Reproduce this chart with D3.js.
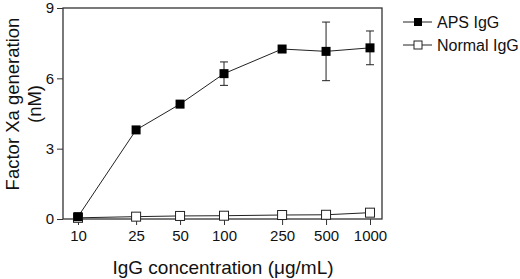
<!DOCTYPE html>
<html><head><meta charset="utf-8">
<script src="https://cdn.jsdelivr.net/npm/d3@7"></script>
<style>body{margin:0;background:#fff}svg{display:block}text{font-family:"Liberation Sans",Arial,sans-serif;fill:#111}</style>
</head><body>
<script>
const concentrations = [10, 25, 50, 100, 250, 500, 1000];
const xTickLabels = ["10", "25", "50", "100", "250", "500", "1000"];
const yTicks = [0, 3, 6, 9];
const apsValues = [0.1, 3.8, 4.9, 6.2, 7.25, 7.15, 7.3];
const apsErrors = [0, 0, 0, 0.5, 0, 1.25, 0.72];
const normalValues = [0.05, 0.1, 0.13, 0.14, 0.17, 0.18, 0.27];
const seriesNames = ["APS IgG", "Normal IgG"];

const W = 520, H = 279;
const svg = d3.select("body").append("svg").attr("width", W).attr("height", H);
const pL = 63, pR = 382, pT = 8, pB = 219;
const x = d3.scaleLog().domain([10, 1000]).range([78, 370]);
const y = d3.scaleLinear().domain([0, 9]).range([pB, pT]);

// frame
svg.append("rect").attr("x", pL).attr("y", pT).attr("width", pR-pL).attr("height", pB-pT)
  .attr("fill", "none").attr("stroke", "#333").attr("stroke-width", 1.3);

// y axis
const ya = svg.append("g").attr("transform", `translate(${pL},0)`)
  .call(d3.axisLeft(y).tickValues(yTicks).tickSize(6).tickPadding(3).tickFormat(d3.format("d")));
ya.select(".domain").remove();
ya.selectAll("line").attr("stroke", "#333");
ya.selectAll("text").style("font-size", "15px").attr("fill", "#111");

// x axis
const xa = svg.append("g").attr("transform", `translate(0,${pB})`)
  .call(d3.axisBottom(x).tickValues(concentrations).tickSize(6).tickPadding(5).tickFormat((d,i) => xTickLabels[i]));
xa.select(".domain").remove();
xa.selectAll("line").attr("stroke", "#333");
xa.selectAll("text").style("font-size", "15px").attr("fill", "#111");

// axis titles
svg.append("text").attr("transform", `translate(13,104) rotate(-90)`).attr("text-anchor", "middle")
  .attr("dy", "0.35em").style("font-size", "18.5px").text("Factor Xa generation");
svg.append("text").attr("transform", `translate(35,104) rotate(-90)`).attr("text-anchor", "middle")
  .attr("dy", "0.35em").style("font-size", "18.5px").text("(nM)");
svg.append("text").attr("x", 223).attr("y", 274).attr("text-anchor", "middle")
  .style("font-size", "19px").text("IgG concentration (\u03bcg/mL)");

const line = d3.line().x(d => x(d[0])).y(d => y(d[1]));

// Normal series
const normData = concentrations.map((c,i) => [c, normalValues[i]]);
svg.append("path").datum(normData).attr("d", line).attr("fill", "none").attr("stroke", "#222").attr("stroke-width", 1);
// APS series
const apsData = concentrations.map((c,i) => [c, apsValues[i], apsErrors[i]]);
svg.append("path").datum(apsData).attr("d", line).attr("fill", "none").attr("stroke", "#222").attr("stroke-width", 1);

// error bars
const eb = svg.append("g").attr("stroke", "#222").attr("stroke-width", 1);
apsData.filter(d => d[2] > 0).forEach(d => {
  const cx = x(d[0]), y1 = y(d[1] + d[2]), y2 = y(d[1] - d[2]);
  eb.append("line").attr("x1", cx).attr("x2", cx).attr("y1", y1).attr("y2", y2);
  eb.append("line").attr("x1", cx-4).attr("x2", cx+4).attr("y1", y1).attr("y2", y1);
  eb.append("line").attr("x1", cx-4).attr("x2", cx+4).attr("y1", y2).attr("y2", y2);
});

// markers
svg.append("g").selectAll("rect").data(normData).join("rect")
  .attr("x", d => x(d[0]) - 4.5).attr("y", d => y(d[1]) - 4.5).attr("width", 9).attr("height", 9)
  .attr("fill", "#fff").attr("stroke", "#222").attr("stroke-width", 1);
svg.append("g").selectAll("rect").data(apsData).join("rect")
  .attr("x", d => x(d[0]) - 4.5).attr("y", d => y(d[1]) - 4.5).attr("width", 9).attr("height", 9)
  .attr("fill", "#000");

// legend
const lg = svg.append("g");
seriesNames.forEach((name, i) => {
  const ly = 22 + i * 23;
  lg.append("line").attr("x1", 403).attr("x2", 432).attr("y1", ly).attr("y2", ly).attr("stroke", "#222").attr("stroke-width", 1);
  lg.append("rect").attr("x", 418 - 4).attr("y", ly - 4).attr("width", 8).attr("height", 8)
    .attr("fill", i === 0 ? "#000" : "#fff").attr("stroke", "#222").attr("stroke-width", i === 0 ? 0 : 1);
  lg.append("text").attr("x", 437).attr("y", ly).attr("dy", "0.35em").style("font-size", "16px").text(name);
});
</script>
</body></html>
